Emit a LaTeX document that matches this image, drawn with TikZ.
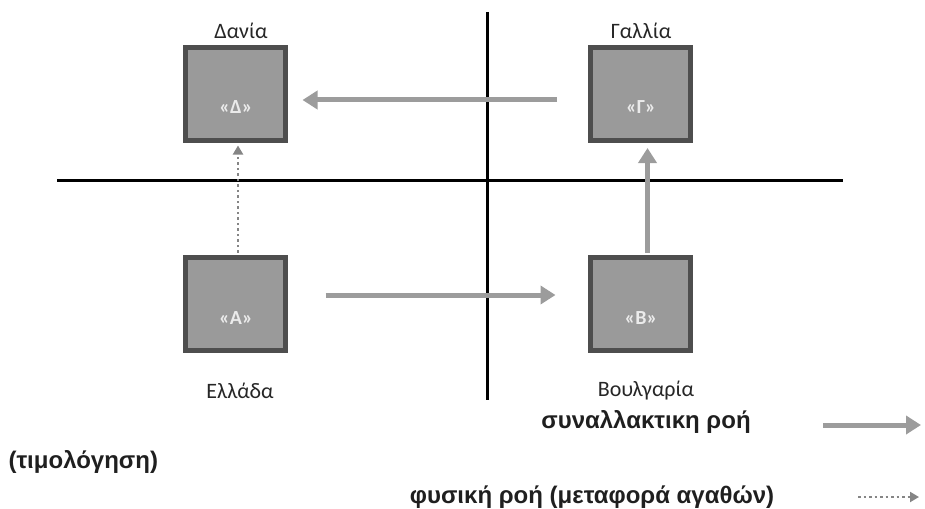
\documentclass[tikz,border=0pt]{standalone}
\usepackage{fontspec}
\setmainfont{Carlito}
\newfontfamily\legfont{Liberation Sans}
\usetikzlibrary{arrows.meta}
\definecolor{boxfill}{HTML}{9A9A9A}
\definecolor{boxedge}{HTML}{4E4E4E}
\definecolor{flowgray}{HTML}{9C9C9C}
\tikzset{
  country/.style={draw=boxedge, fill=boxfill, line width=5pt, minimum width=100pt, minimum height=93pt, inner sep=0pt},
  inlabel/.style={text=white!92!black, font=\fontsize{20}{22}\selectfont\bfseries},
  cname/.style={font=\fontsize{22}{26}\selectfont, text=black!85},
  legtext/.style={font=\legfont\bfseries\fontsize{24}{27}\selectfont, text=black!88},
  txflow/.style={draw=flowgray, line width=5pt, -{Triangle[length=15pt,width=18pt]}},
  phflow/.style={draw=flowgray!85!black, line width=2pt, dash pattern=on 2.5pt off 3pt, -{Triangle[length=9pt,width=10pt]}},
  axis/.style={draw=black, line width=3pt}
}
\begin{document}
\begin{tikzpicture}[x=1pt,y=-1pt]
\useasboundingbox (0,0) rectangle (925,508);
% axes
\coordinate (hl) at (57,180);
\coordinate (hr) at (843,180);
\coordinate (vt) at (487,12);
\coordinate (vb) at (487,400);
\draw[axis] (hl) -- (hr);
\draw[axis] (vt) -- (vb);
% boxes
\node[country] (D) at (235.5,94) {};
\node[country] (G) at (640.5,94) {};
\node[country] (A) at (235.5,304) {};
\node[country] (B) at (640.5,304) {};
\node[inlabel] (Dl) at (236,107) {«Δ»};
\node[inlabel] (Gl) at (641,107) {«Γ»};
\node[inlabel] (Al) at (236,318) {«Α»};
\node[inlabel] (Bl) at (641,318) {«Β»};
% names
\node[cname] (Dn) at (241,31) {Δανία};
\node[cname] (Gn) at (641,31) {Γαλλία};
\node[cname] (An) at (240,391) {Ελλάδα};
\node[cname] (Bn) at (646,391) {Βουλγαρία};
% flows
\draw[txflow] ([xshift=-31pt,yshift=-6pt]G.west) -- ([xshift=14.5pt,yshift=-6pt]D.east);
\draw[txflow] ([xshift=37.5pt,yshift=9pt]A.east) -- ([xshift=-32.5pt,yshift=9pt]B.west);
\draw[txflow] ([xshift=7pt,yshift=2.5pt]B.north) -- ([xshift=7pt,yshift=-5pt]G.south);
\draw[phflow] ([xshift=2.5pt,yshift=2.5pt]A.north) -- ([xshift=2.5pt,yshift=-2.5pt]D.south);
% legend
\node[legtext] (L1) at (646,422) {συναλλακτικη ροή};
\node[legtext, anchor=west] (L2) at (5,462) {(τιμολόγηση)};
\node[legtext] (L3) at (592,497) {φυσική ροή (μεταφορά αγαθών)};
\coordinate (a1s) at (823,425);
\coordinate (a1e) at (921,425);
\coordinate (a2s) at (858,497);
\coordinate (a2e) at (919,497);
\draw[txflow] (a1s) -- (a1e);
\draw[phflow] (a2s) -- (a2e);
\end{tikzpicture}
\end{document}
